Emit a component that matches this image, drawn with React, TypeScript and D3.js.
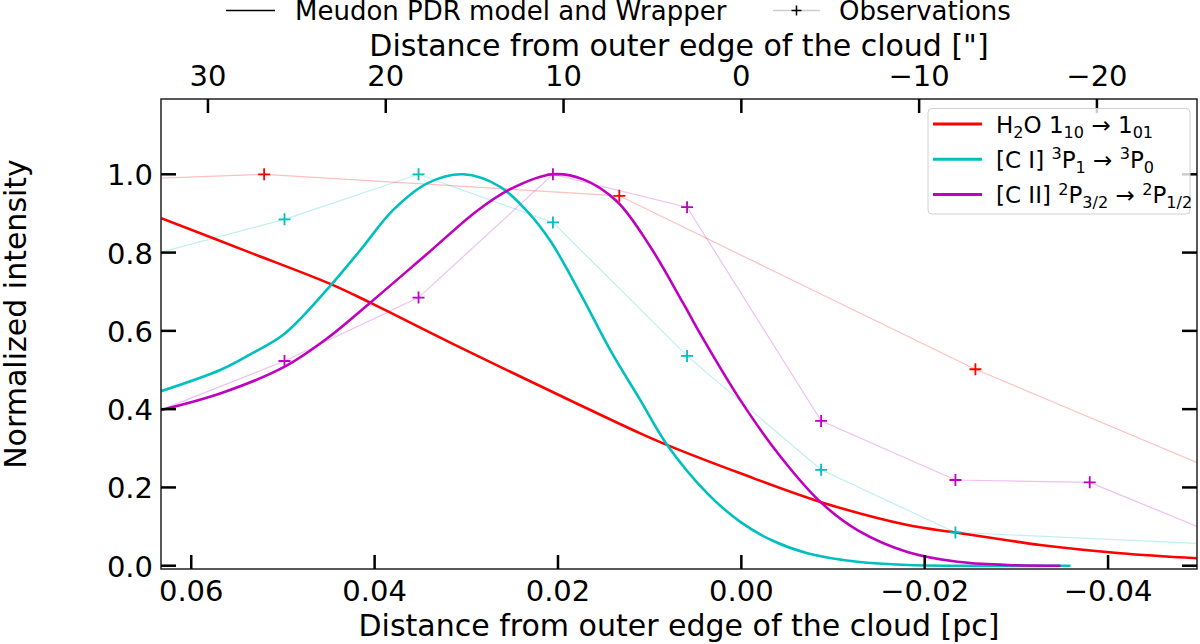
import React from "react";
import * as d3 from "d3";

// ---------- data ----------
// distance from outer edge of the cloud [pc]
const DIST_PC = 400; // source distance used for arcsec axis
const ARCSEC_PER_PC = 206265 / DIST_PC;

// Model curves (Meudon PDR model and Wrapper): [pc, normalized intensity]
const h2oModel: [number, number][] = [
  [0.06328, 0.888], [0.05357, 0.8], [0.04484, 0.72], [0.04048, 0.672],
  [0.03175, 0.57], [0.01757, 0.41], [0.01102, 0.338], [0.00807, 0.308],
  [0.00011, 0.236], [-0.00862, 0.163], [-0.01811, 0.104], [-0.02335, 0.085],
  [-0.03262, 0.053], [-0.04135, 0.032], [-0.04975, 0.019],
];
const ciModel: [number, number][] = [
  [0.06328, 0.446], [0.05685, 0.5], [0.05357, 0.54], [0.04986, 0.592], [0.04484, 0.715],
  [0.04157, 0.806], [0.03797, 0.909], [0.03426, 0.977], [0.03033, 1.0],
  [0.0263, 0.968], [0.02335, 0.905], [0.02084, 0.83], [0.01757, 0.696],
  [0.01429, 0.551], [0.01102, 0.423], [0.00807, 0.308], [0.00371, 0.185],
  [0.00011, 0.112], [-0.00349, 0.063], [-0.0072, 0.032], [-0.01266, 0.01],
  [-0.01811, 0.002], [-0.0359, 0.0],
];
const ciiModel: [number, number][] = [
  [0.06328, 0.398], [0.05685, 0.44], [0.04986, 0.508], [0.04517, 0.581],
  [0.04048, 0.672], [0.03426, 0.797], [0.02881, 0.907], [0.0252, 0.962],
  [0.02062, 1.0], [0.01724, 0.987], [0.01353, 0.93], [0.00993, 0.815],
  [0.00633, 0.67], [0.00447, 0.592], [0.00011, 0.423], [-0.00426, 0.279],
  [-0.00862, 0.163], [-0.01266, 0.091], [-0.01811, 0.035], [-0.02357, 0.01],
  [-0.02902, 0.002], [-0.03481, 0.0],
];

// Observations
const h2oObsPc = [0.0907, 0.05205, 0.01331, -0.02553, -0.0642];
const h2oObsVal = [0.966, 1.0, 0.945, 0.502, 0.12];
const cObsPc = [0.06447, 0.04983, 0.03521, 0.02055, 0.00592, -0.0087, -0.02335, -0.038, -0.05265];
const ciObsPc = [0.06447, 0.04983, 0.03521, 0.02055, 0.00592, -0.0087, -0.02335, -0.05265];
const ciObsVal = [0.794, 0.885, 1.0, 0.877, 0.536, 0.245, 0.085, 0.054];
const ciiObsVal = [0.387, 0.523, 0.685, 1.0, 0.916, 0.37, 0.219, 0.213, 0.072];

const bottomTicks = [0.06, 0.04, 0.02, 0.0, -0.02, -0.04];
const bottomTickLabels = ["0.06", "0.04", "0.02", "0.00", "\u22120.02", "\u22120.04"];
const topTicks = [30, 20, 10, 0, -10, -20];
const topTickLabels = ["30", "20", "10", "0", "\u221210", "\u221220"];
const yTicks = [0, 0.2, 0.4, 0.6, 0.8, 1.0];
const yTickLabels = ["0.0", "0.2", "0.4", "0.6", "0.8", "1.0"];

const RED = "#ff0000";
const CYAN = "#00bfbf";
const MAGENTA = "#bf00bf";

type Seg = { t: string; s?: "sub" | "sup" };
const legendEntries: { color: string; segs: Seg[] }[] = [
  { color: RED, segs: [{ t: "H" }, { t: "2", s: "sub" }, { t: "O 1" }, { t: "10", s: "sub" }, { t: " \u2192 1" }, { t: "01", s: "sub" }] },
  { color: CYAN, segs: [{ t: "[C I] " }, { t: "3", s: "sup" }, { t: "P" }, { t: "1", s: "sub" }, { t: " \u2192 " }, { t: "3", s: "sup" }, { t: "P" }, { t: "0", s: "sub" }] },
  { color: MAGENTA, segs: [{ t: "[C II] " }, { t: "2", s: "sup" }, { t: "P" }, { t: "3/2", s: "sub" }, { t: " \u2192 " }, { t: "2", s: "sup" }, { t: "P" }, { t: "1/2", s: "sub" }] },
];

const FONT = "'DejaVu Sans', sans-serif";

const L = 161, R = 1197, T = 99, B = 569;

function RichText({ x, y, segs, size }: { x: number; y: number; segs: Seg[]; size: number }) {
  let cur = 0;
  const out: React.ReactNode[] = [];
  segs.forEach((sg, i) => {
    const target = sg.s === "sub" ? size * 0.22 : sg.s === "sup" ? -size * 0.38 : 0;
    const dy = target - cur;
    cur = target;
    out.push(
      <tspan key={i} dy={dy} fontSize={sg.s ? size * 0.7 : size}>
        {sg.t}
      </tspan>
    );
  });
  return (
    <text x={x} y={y} fontFamily={FONT} fontSize={size} fill="#000" style={{ whiteSpace: "pre" }}>
      {out}
    </text>
  );
}

export default function App() {
  const x = d3.scaleLinear().domain([0.0633, -0.0497]).range([L, R]);
  const xTop = d3
    .scaleLinear()
    .domain(x.domain().map((v) => v * ARCSEC_PER_PC))
    .range([L, R]);
  const y = d3.scaleLinear().domain([-0.0084, 1.1924]).range([B, T]);

  const smooth = d3
    .line<[number, number]>()
    .x((d) => x(d[0]))
    .y((d) => y(d[1]))
    .curve(d3.curveCatmullRom.alpha(0.5));
  const straight = d3
    .line<[number, number]>()
    .x((d) => x(d[0]))
    .y((d) => y(d[1]));

  const h2oObs: [number, number][] = h2oObsPc.map((p, i) => [p, h2oObsVal[i]]);
  const ciObs: [number, number][] = ciObsPc.map((p, i) => [p, ciObsVal[i]]);
  const ciiObs: [number, number][] = cObsPc.map((p, i) => [p, ciiObsVal[i]]);

  const plus = (cx: number, cy: number, s = 6) => `M${cx - s},${cy}H${cx + s}M${cx},${cy - s}V${cy + s}`;

  const obsSeries = [
    { data: ciObs, color: CYAN },
    { data: ciiObs, color: MAGENTA },
    { data: h2oObs, color: RED },
  ];

  const inRange = (p: number) => p <= 0.0633 && p >= -0.0497;

  return (
    <svg
      width={1200}
      height={644}
      viewBox="0 0 1200 644"
      style={{ position: "absolute", left: 0, top: 0, background: "#fff" }}
    >
      <defs>
        <clipPath id="plotclip">
          <rect x={L} y={T} width={R - L} height={B - T} />
        </clipPath>
      </defs>
      <rect x={0} y={0} width={1200} height={644} fill="#fff" />

      <g clipPath="url(#plotclip)">
        {/* observation lines */}
        {obsSeries.map((s, i) => (
          <path key={"ol" + i} d={straight(s.data) || ""} fill="none" stroke={s.color} strokeOpacity={0.25} strokeWidth={1.2} />
        ))}
        {/* models */}
        <path d={smooth(h2oModel) || ""} fill="none" stroke={RED} strokeWidth={2.6} />
        <path d={smooth(ciModel) || ""} fill="none" stroke={CYAN} strokeWidth={2.6} />
        <path d={smooth(ciiModel) || ""} fill="none" stroke={MAGENTA} strokeWidth={2.6} />
        {/* markers */}
        {obsSeries.map((s, i) =>
          s.data
            .filter((d) => inRange(d[0]))
            .map((d, j) => (
              <path key={"m" + i + "-" + j} d={plus(x(d[0]), y(d[1]))} stroke={s.color} strokeWidth={1.8} fill="none" />
            ))
        )}
      </g>

      {/* frame */}
      <rect x={L} y={T} width={R - L} height={B - T} fill="none" stroke="#222" strokeWidth={1.5} />

      {/* bottom ticks */}
      {bottomTicks.map((t, i) => (
        <g key={"bt" + i}>
          <line x1={x(t)} x2={x(t)} y1={B} y2={B - 14} stroke="#000" strokeWidth={2.5} />
          <text x={x(t)} y={601} textAnchor="middle" fontFamily={FONT} fontSize={29}>
            {bottomTickLabels[i]}
          </text>
        </g>
      ))}
      {/* top ticks */}
      {topTicks.map((t, i) => (
        <g key={"tt" + i}>
          <line x1={xTop(t)} x2={xTop(t)} y1={T} y2={T + 14} stroke="#000" strokeWidth={2.5} />
          <text x={xTop(t)} y={86} textAnchor="middle" fontFamily={FONT} fontSize={29}>
            {topTickLabels[i]}
          </text>
        </g>
      ))}
      {/* y ticks */}
      {yTicks.map((t, i) => (
        <g key={"yt" + i}>
          <line x1={L} x2={L + 15} y1={y(t)} y2={y(t)} stroke="#000" strokeWidth={2.5} />
          <line x1={R} x2={R - 15} y1={y(t)} y2={y(t)} stroke="#000" strokeWidth={2.5} />
          <text x={153} y={y(t) + 11} textAnchor="end" fontFamily={FONT} fontSize={29}>
            {yTickLabels[i]}
          </text>
        </g>
      ))}

      {/* axis titles */}
      <text x={(L + R) / 2} y={636} textAnchor="middle" fontFamily={FONT} fontSize={30}>
        Distance from outer edge of the cloud [pc]
      </text>
      <text x={(L + R) / 2} y={56} textAnchor="middle" fontFamily={FONT} fontSize={30}>
        Distance from outer edge of the cloud ["]
      </text>
      <text transform={`translate(26,314) rotate(-90)`} textAnchor="middle" fontFamily={FONT} fontSize={30}>
        Normalized intensity
      </text>

      {/* top legend */}
      <line x1={226} x2={275} y1={10.5} y2={10.5} stroke="#000" strokeWidth={1.5} />
      <text x={295} y={20} fontFamily={FONT} fontSize={26}>
        Meudon PDR model and Wrapper
      </text>
      <line x1={773} x2={820} y1={10.5} y2={10.5} stroke="#000" strokeOpacity={0.2} strokeWidth={1.5} />
      <path d={plus(796.5, 10.5, 5)} stroke="#000" strokeWidth={1.5} fill="none" />
      <text x={839} y={20} fontFamily={FONT} fontSize={26}>
        Observations
      </text>

      {/* right legend */}
      <rect x={928} y={108.5} width={262} height={105.5} rx={4} fill="#fff" fillOpacity={0.8} stroke="#d0d0d0" strokeWidth={1} />
      {legendEntries.map((e, i) => (
        <g key={"lg" + i}>
          <line x1={933} x2={982} y1={124 + i * 35.2} y2={124 + i * 35.2} stroke={e.color} strokeWidth={3} />
          <RichText x={996} y={133 + i * 35.2} segs={e.segs} size={23} />
        </g>
      ))}
    </svg>
  );
}
